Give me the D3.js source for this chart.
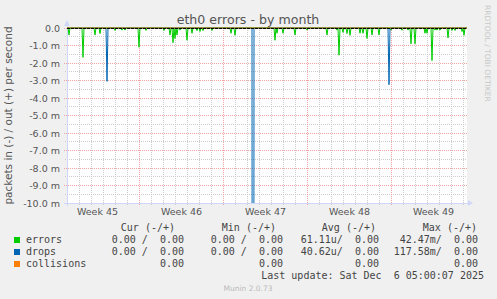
<!DOCTYPE html>
<html>
<head>
<meta charset="utf-8">
<script src="https://cdnjs.cloudflare.com/ajax/libs/d3/7.8.5/d3.min.js"></script>
<style>
    body { margin: 0; background: #f0f0f0; }
    svg { display: block; }
    text { font-family: "DejaVu Sans", sans-serif; fill: #555; }
    .mono { font-family: "DejaVu Sans Mono", monospace; font-size: 10px; fill: #444; }
</style>
</head>
<body>
<div id="chart"></div>
<script>
// eth0 errors - by month (values in milli-packets per second, "in" drawn negative)
const graphStart = "2025-11-04 00:00";
const graphHours = 800;

const errorTimes = [
    "2025-11-04 04:00", "2025-11-05 08:00", "2025-11-06 08:00", "2025-11-06 18:00",
    "2025-11-08 00:00", "2025-11-08 14:00", "2025-11-08 20:00", "2025-11-10 00:00",
    "2025-11-10 14:00", "2025-11-12 02:00", "2025-11-12 14:00", "2025-11-12 20:00",
    "2025-11-13 00:00", "2025-11-13 04:00", "2025-11-13 10:00", "2025-11-14 00:00",
    "2025-11-14 10:00", "2025-11-14 20:00", "2025-11-15 02:00", "2025-11-15 08:00",
    "2025-11-16 02:00", "2025-11-17 16:00", "2025-11-18 00:00", "2025-11-21 08:00",
    "2025-11-21 12:00", "2025-11-22 00:00", "2025-11-23 00:00", "2025-11-24 00:00",
    "2025-11-25 16:00", "2025-11-26 12:00", "2025-11-26 16:00", "2025-11-27 00:00",
    "2025-11-27 08:00", "2025-11-27 14:00", "2025-11-28 10:00", "2025-11-28 16:00",
    "2025-11-29 00:00", "2025-11-29 10:00", "2025-11-30 00:00", "2025-12-01 00:00",
    "2025-12-01 22:00", "2025-12-02 10:00", "2025-12-02 16:00", "2025-12-03 00:00",
    "2025-12-03 20:00", "2025-12-04 00:00", "2025-12-04 10:00", "2025-12-04 16:00",
    "2025-12-04 20:00", "2025-12-05 02:00", "2025-12-05 18:00", "2025-12-06 02:00",
    "2025-12-06 08:00", "2025-12-06 22:00", "2025-12-07 02:00"
];
const errorValues = [
    -0.40, -1.68, -0.40, -0.32,
    -0.14, -0.12, -0.12, -1.10,
    -0.14, -0.14, -0.40, -0.84,
    -0.60, -0.40, -0.12, -0.70,
    -0.30, -0.15, -0.20, -0.15,
    -0.14, -0.30, -0.42, -0.70,
    -0.30, -0.30, -0.40, -0.12,
    -0.40, -0.12, -1.55, -0.25,
    -0.32, -0.42, -0.30, -0.30,
    -0.60, -0.40, -0.40, -0.12,
    -0.13, -0.12, -0.90, -0.90,
    -0.30, -0.30, -1.86, -0.12,
    -0.12, -0.12, -0.57, -0.14,
    -0.14, -0.20, -0.42
];

const dropTimes = ["2025-11-07 08:00", "2025-11-19 12:00", "2025-11-30 20:00"];
const dropValues = [-3.05, -117.58, -3.24];

const yTicks = [0, -1, -2, -3, -4, -5, -6, -7, -8, -9, -10];

const legendNames = ["errors", "drops", "collisions"];
const legendColors = ["#00CC00", "#0066B3", "#FF8000"];
const colHeaders = ["Cur (-/+)", "Min (-/+)", "Avg (-/+)", "Max (-/+)"];
const curCol = ["0.00 /  0.00", "0.00 /  0.00", "0.00"];
const minCol = ["0.00 /  0.00", "0.00 /  0.00", "0.00"];
const avgCol = ["61.11u/  0.00", "40.62u/  0.00", "0.00"];
const maxCol = ["42.47m/  0.00", "117.58m/  0.00", "0.00"];
const lastUpdate = "Last update: Sat Dec  6 05:00:07 2025";

function drawGraph() {
    const W = 497, H = 299;
    const plot = { left: 67, right: 467, top: 28, bottom: 203 };
    const parse = d3.utcParse("%Y-%m-%d %H:%M");
    const start = parse(graphStart);
    const end = d3.utcHour.offset(start, graphHours);

    const svg = d3.select("#chart").append("svg").attr("width", W).attr("height", H);
    svg.append("rect").attr("width", W).attr("height", H).attr("fill", "#F0F0F0");
    svg.append("rect")
        .attr("x", plot.left).attr("y", plot.top)
        .attr("width", plot.right - plot.left).attr("height", plot.bottom - plot.top)
        .attr("fill", "#FFFFFF");

    const x = d3.scaleUtc().domain([start, end]).range([plot.left, plot.right]);
    const y = d3.scaleLinear().domain([-10, 0]).range([plot.bottom, plot.top]);
    const px = v => Math.round(v) + 0.5;

    // grid
    const grid = svg.append("g").attr("shape-rendering", "crispEdges");
    const minorY = y.ticks(20).filter(v => !Number.isInteger(v));
    grid.selectAll(".hmin").data(minorY).enter().append("line")
        .attr("x1", plot.left - 2).attr("x2", plot.right)
        .attr("y1", d => px(y(d) - 0.5)).attr("y2", d => px(y(d) - 0.5))
        .attr("stroke", "#CCCCCC").attr("stroke-dasharray", "1,1");
    const minorX = x.ticks(d3.utcDay).filter(d => d3.utcMonday.floor(d) - d !== 0);
    grid.selectAll(".vmin").data(minorX).enter().append("line")
        .attr("x1", d => px(x(d))).attr("x2", d => px(x(d)))
        .attr("y1", plot.top).attr("y2", plot.bottom + 2)
        .attr("stroke", "#CCCCCC").attr("stroke-dasharray", "1,1");
    grid.selectAll(".hmaj").data(yTicks).enter().append("line")
        .attr("x1", plot.left - 3).attr("x2", plot.right)
        .attr("y1", d => px(y(d) - 0.5)).attr("y2", d => px(y(d) - 0.5))
        .attr("stroke", "#EFA3A3").attr("stroke-dasharray", "1,1");
    const majorX = x.ticks(d3.utcMonday);
    grid.selectAll(".vmaj").data(majorX).enter().append("line")
        .attr("x1", d => px(x(d))).attr("x2", d => px(x(d)))
        .attr("y1", plot.top).attr("y2", plot.bottom + 3)
        .attr("stroke", "#EFA3A3").attr("stroke-dasharray", "1,1");

    // axes lines + arrows
    const axisColor = "#CFD6F8";
    grid.append("line").attr("x1", px(plot.left - 0.5)).attr("x2", px(plot.left - 0.5))
        .attr("y1", plot.bottom + 3).attr("y2", plot.top - 4).attr("stroke", axisColor);
    grid.append("line").attr("x1", plot.left - 3).attr("x2", plot.right + 2)
        .attr("y1", px(plot.bottom - 0.5)).attr("y2", px(plot.bottom - 0.5)).attr("stroke", axisColor);
    svg.append("path")
        .attr("d", `M${plot.left - 3},${plot.top - 2}L${plot.left + 3},${plot.top - 2}L${plot.left},${plot.top - 8}Z`)
        .attr("fill", axisColor);
    svg.append("path")
        .attr("d", `M${plot.right + 1},${plot.bottom - 3}L${plot.right + 1},${plot.bottom + 3}L${plot.right + 6},${plot.bottom}Z`)
        .attr("fill", axisColor);

    // data series on a 2-hour step
    const samples = d3.utcHour.every(2).range(start, d3.utcHour.offset(end, 1));
    function series(times, values) {
        const m = new Map(times.map((t, i) => [+parse(t), values[i]]));
        return samples.map(t => ({ t, v: m.has(+t) ? m.get(+t) : 0 }));
    }
    const line = d3.line().x(d => x(d.t)).y(d => y(d.v));

    svg.append("clipPath").attr("id", "clip").append("rect")
        .attr("x", plot.left).attr("y", plot.top - 1)
        .attr("width", plot.right - plot.left).attr("height", plot.bottom - plot.top + 1);
    const g = svg.append("g").attr("clip-path", "url(#clip)");

    const errSeries = series(errorTimes, errorValues);
    const dropSeries = series(dropTimes, dropValues);
    const outSeries = samples.map(t => ({ t, v: 0 }));
    g.append("path").datum(errSeries).attr("fill", "none")
        .attr("stroke", legendColors[0]).attr("stroke-width", 1).attr("d", line);
    g.append("path").datum(outSeries).attr("fill", "none")
        .attr("stroke", legendColors[0]).attr("stroke-width", 1).attr("d", line);
    g.append("path").datum(dropSeries).attr("fill", "none")
        .attr("stroke", legendColors[1]).attr("stroke-width", 1).attr("d", line);
    g.append("path").datum(outSeries).attr("fill", "none")
        .attr("stroke", legendColors[2]).attr("stroke-width", 1).attr("d", line);
    // zero rule
    g.append("line").attr("x1", plot.left).attr("x2", plot.right)
        .attr("y1", px(y(0))).attr("y2", px(y(0)))
        .attr("stroke", "#000").attr("stroke-dasharray", "3,1").attr("shape-rendering", "crispEdges");

    // y axis labels
    const yAxis = svg.append("g").attr("transform", `translate(${plot.left},0)`)
        .call(d3.axisLeft(y).tickValues(yTicks).tickSize(0).tickPadding(7)
            .tickFormat(d => d === 0 ? "0.0" : d.toFixed(1) + " m"));
    yAxis.select(".domain").remove();
    yAxis.selectAll("text").style("font-family", "DejaVu Sans").style("font-size", "9.5px").attr("fill", "#555");

    // week labels, centred in each week
    const weekMid = d3.utcMonday.range(d3.utcMonday.floor(start), end)
        .map(d => d3.utcHour.offset(d, 84))
        .filter(d => d > start && d < end);
    const xAxis = svg.append("g").attr("transform", `translate(0,${plot.bottom})`)
        .call(d3.axisBottom(x).tickValues(weekMid).tickSize(0).tickPadding(5)
            .tickFormat(d => d3.utcFormat("Week %V")(d3.utcMonday.floor(d))));
    xAxis.select(".domain").remove();
    xAxis.selectAll("text").style("font-family", "DejaVu Sans").style("font-size", "9.5px").attr("fill", "#555");

    // title and side labels
    svg.append("text").attr("x", 248).attr("y", 24).attr("text-anchor", "middle")
        .style("font-size", "12.6px").text("eth0 errors - by month");
    svg.append("text").attr("transform", `translate(12,${(plot.top + plot.bottom) / 2}) rotate(-90)`)
        .attr("text-anchor", "middle").style("font-size", "10.5px")
        .text("packets in (-) / out (+) per second");
    svg.append("text").attr("transform", "translate(485,5) rotate(90)")
        .style("font-size", "7.5px").style("fill", "#C8C8C8")
        .text("RRDTOOL / TOBI OETIKER");

    // legend
    const rowY = [243, 255, 267];
    svg.selectAll(".lbox").data(legendNames).enter().append("rect")
        .attr("x", 14).attr("y", (d, i) => rowY[i] - 6).attr("width", 6).attr("height", 6)
        .attr("fill", (d, i) => legendColors[i]);
    svg.selectAll(".lname").data(legendNames).enter().append("text")
        .attr("class", "mono").attr("x", 26).attr("y", (d, i) => rowY[i]).text(d => d);

    const headerEnd = [174, 275, 375, 476];
    svg.selectAll(".lhead").data(colHeaders).enter().append("text")
        .attr("class", "mono").attr("xml:space", "preserve").attr("text-anchor", "end")
        .attr("x", (d, i) => headerEnd[i] + 1).attr("y", 231).text(d => d);

    const cols = [curCol, minCol, avgCol, maxCol];
    const colEnd = [183, 282, 378, 477];
    cols.forEach((col, c) => {
        svg.selectAll(".lcol" + c).data(col).enter().append("text")
            .attr("class", "mono").attr("xml:space", "preserve").attr("text-anchor", "end")
            .attr("x", colEnd[c] + 1).attr("y", (d, i) => rowY[i]).text(d => d);
    });
    svg.append("text").attr("class", "mono").attr("xml:space", "preserve")
        .attr("text-anchor", "end").attr("x", 484).attr("y", 279).text(lastUpdate);

    svg.append("text").attr("x", 248).attr("y", 291).attr("text-anchor", "middle")
        .style("font-size", "7.5px").style("fill", "#BBBBBB").text("Munin 2.0.73");
}

drawGraph();
</script>
</body>
</html>
